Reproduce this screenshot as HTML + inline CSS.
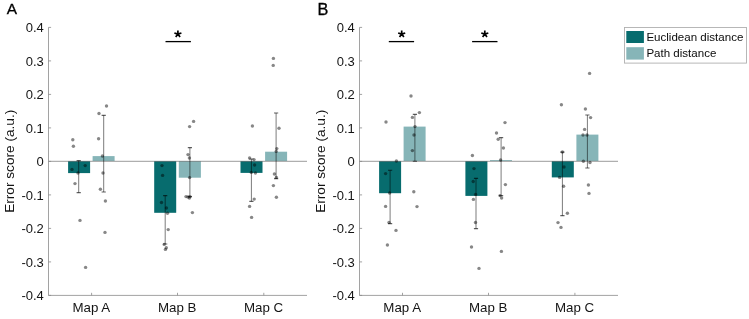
<!DOCTYPE html>
<html><head><meta charset="utf-8"><title>Figure</title>
<style>
html,body{margin:0;padding:0;background:#fff;}
body{width:749px;height:319px;overflow:hidden;}
svg{display:block;will-change:transform;}
text{font-family:"Liberation Sans",sans-serif;fill:#141414;}
.tk{font-size:13px;}
.xl{font-size:13.3px;}
.pl{font-size:16.4px;fill:#000;stroke:#000;stroke-width:0.3px;}
.lg{font-size:11.55px;fill:#0a0a0a;}
.yl{font-size:13.65px;}
</style></head>
<body>
<svg width="749" height="319" viewBox="0 0 749 319">
<rect width="749" height="319" fill="#ffffff"/>
<!-- panel A -->
<g>
<rect x="68.1" y="161.0" width="22.0" height="12.1" fill="#076c6e"/>
<rect x="92.6" y="156.1" width="22.0" height="4.9" fill="#86b5b8"/>
<rect x="154.2" y="161.0" width="22.0" height="51.8" fill="#076c6e"/>
<rect x="178.8" y="161.0" width="22.1" height="16.7" fill="#86b5b8"/>
<rect x="240.5" y="161.0" width="22.0" height="11.9" fill="#076c6e"/>
<rect x="265.1" y="151.7" width="22.0" height="9.3" fill="#86b5b8"/>
<line x1="48.5" y1="161.3" x2="307.0" y2="161.3" stroke="#787878" stroke-width="0.75"/>
<path d="M48.5 27.4V295.4H307.0" stroke="#8a8a8a" stroke-width="0.8" fill="none"/>
<path d="M48.5 295.4h2.6M48.5 261.9h2.6M48.5 228.4h2.6M48.5 194.9h2.6M48.5 161.4h2.6M48.5 127.9h2.6M48.5 94.4h2.6M48.5 60.9h2.6M48.5 27.4h2.6M91.6 295.4v-2.6M177.5 295.4v-2.6M263.8 295.4v-2.6" stroke="#8a8a8a" stroke-width="0.8" fill="none"/>
<text class="tk" x="43.8" y="300.0" text-anchor="end">-0.4</text>
<text class="tk" x="43.8" y="266.5" text-anchor="end">-0.3</text>
<text class="tk" x="43.8" y="233.0" text-anchor="end">-0.2</text>
<text class="tk" x="43.8" y="199.5" text-anchor="end">-0.1</text>
<text class="tk" x="43.8" y="166.0" text-anchor="end">0</text>
<text class="tk" x="43.8" y="132.5" text-anchor="end">0.1</text>
<text class="tk" x="43.8" y="99.0" text-anchor="end">0.2</text>
<text class="tk" x="43.8" y="65.5" text-anchor="end">0.3</text>
<text class="tk" x="43.8" y="32.0" text-anchor="end">0.4</text>
<text class="xl" x="91.3" y="312.2" text-anchor="middle">Map A</text>
<text class="xl" x="177.2" y="312.2" text-anchor="middle">Map B</text>
<text class="xl" x="263.5" y="312.2" text-anchor="middle">Map C</text>
<text class="yl" transform="translate(14.2 161.3) rotate(-90)" text-anchor="middle">Error score (a.u.)</text>
<path d="M78.7 160.6V192.6M103.7 115.4V192.0M165.2 195.6V244.0M189.9 147.6V196.6M251.4 159.0V201.4M276.1 113.0V178.6" stroke="#000" stroke-opacity="0.58" stroke-width="0.9" fill="none"/>
<path d="M76.6 160.6h4.2M76.6 192.6h4.2M101.6 115.4h4.2M101.6 192.0h4.2M163.1 195.6h4.2M163.1 244.0h4.2M187.8 147.6h4.2M187.8 196.6h4.2M249.3 159.0h4.2M249.3 201.4h4.2M274.0 113.0h4.2M274.0 178.6h4.2" stroke="#000" stroke-opacity="0.62" stroke-width="1.1" fill="none"/>
<g fill="#000" fill-opacity="0.47">
<circle cx="72.8" cy="139.8" r="1.7"/><circle cx="73.4" cy="146.3" r="1.7"/><circle cx="72.0" cy="169.4" r="1.7"/><circle cx="85.2" cy="165.6" r="1.7"/><circle cx="78.0" cy="173.0" r="1.7"/><circle cx="75.0" cy="183.6" r="1.7"/><circle cx="80.0" cy="220.4" r="1.7"/><circle cx="85.6" cy="267.4" r="1.7"/><circle cx="106.5" cy="106.0" r="1.7"/><circle cx="99.0" cy="113.5" r="1.7"/><circle cx="98.6" cy="138.8" r="1.7"/><circle cx="102.4" cy="156.0" r="1.7"/><circle cx="103.0" cy="173.0" r="1.7"/><circle cx="100.4" cy="189.2" r="1.7"/><circle cx="105.4" cy="201.0" r="1.7"/><circle cx="105.0" cy="232.4" r="1.7"/><circle cx="162.0" cy="165.6" r="1.7"/><circle cx="162.6" cy="175.4" r="1.7"/><circle cx="161.5" cy="202.5" r="1.7"/><circle cx="166.4" cy="208.0" r="1.7"/><circle cx="167.5" cy="213.3" r="1.7"/><circle cx="168.2" cy="229.6" r="1.7"/><circle cx="164.2" cy="244.4" r="1.7"/><circle cx="166.3" cy="247.8" r="1.7"/><circle cx="165.4" cy="249.4" r="1.7"/><circle cx="193.6" cy="121.4" r="1.7"/><circle cx="189.6" cy="126.6" r="1.7"/><circle cx="188.0" cy="154.6" r="1.7"/><circle cx="189.4" cy="158.0" r="1.7"/><circle cx="189.6" cy="177.6" r="1.7"/><circle cx="188.0" cy="197.0" r="1.7"/><circle cx="190.0" cy="196.6" r="1.7"/><circle cx="186.0" cy="196.6" r="1.7"/><circle cx="189.4" cy="198.0" r="1.7"/><circle cx="192.4" cy="212.6" r="1.7"/><circle cx="252.4" cy="126.0" r="1.7"/><circle cx="249.6" cy="158.0" r="1.7"/><circle cx="254.0" cy="159.6" r="1.7"/><circle cx="254.6" cy="165.0" r="1.7"/><circle cx="255.4" cy="173.0" r="1.7"/><circle cx="254.2" cy="199.1" r="1.7"/><circle cx="249.6" cy="206.4" r="1.7"/><circle cx="251.6" cy="217.4" r="1.7"/><circle cx="273.4" cy="58.4" r="1.7"/><circle cx="273.2" cy="65.4" r="1.7"/><circle cx="279.0" cy="128.2" r="1.7"/><circle cx="276.8" cy="148.6" r="1.7"/><circle cx="274.4" cy="174.0" r="1.7"/><circle cx="276.4" cy="177.4" r="1.7"/><circle cx="273.4" cy="185.6" r="1.7"/><circle cx="276.4" cy="197.2" r="1.7"/><circle cx="276.2" cy="151.4" r="1.7"/><circle cx="251.3" cy="172.4" r="1.7"/>
</g>
<line x1="165.5" y1="41.6" x2="190.9" y2="41.6" stroke="#000" stroke-width="1.3"/>
<path d="M177.90 34.10L177.90 30.40M177.90 34.10L181.42 32.96M177.90 34.10L180.07 37.09M177.90 34.10L175.73 37.09M177.90 34.10L174.38 32.96" stroke="#000" stroke-width="1.7" fill="none"/>
<text class="pl" style="font-size:15.4px" x="6.7" y="14.3">A</text>
</g>
<!-- panel B -->
<g>
<rect x="379.1" y="161.0" width="22.0" height="32.2" fill="#076c6e"/>
<rect x="403.6" y="126.6" width="22.0" height="34.4" fill="#86b5b8"/>
<rect x="465.4" y="161.0" width="22.0" height="34.9" fill="#076c6e"/>
<rect x="490.0" y="160.1" width="22.0" height="0.9" fill="#86b5b8"/>
<rect x="551.8" y="161.0" width="22.0" height="16.4" fill="#076c6e"/>
<rect x="576.4" y="134.6" width="22.0" height="26.4" fill="#86b5b8"/>
<line x1="359.5" y1="161.3" x2="618.0" y2="161.3" stroke="#787878" stroke-width="0.75"/>
<path d="M359.5 27.4V295.4H618.0" stroke="#8a8a8a" stroke-width="0.8" fill="none"/>
<path d="M359.5 295.4h2.6M359.5 261.9h2.6M359.5 228.4h2.6M359.5 194.9h2.6M359.5 161.4h2.6M359.5 127.9h2.6M359.5 94.4h2.6M359.5 60.9h2.6M359.5 27.4h2.6M402.5 295.4v-2.6M488.5 295.4v-2.6M574.9 295.4v-2.6" stroke="#8a8a8a" stroke-width="0.8" fill="none"/>
<text class="tk" x="354.8" y="300.0" text-anchor="end">-0.4</text>
<text class="tk" x="354.8" y="266.5" text-anchor="end">-0.3</text>
<text class="tk" x="354.8" y="233.0" text-anchor="end">-0.2</text>
<text class="tk" x="354.8" y="199.5" text-anchor="end">-0.1</text>
<text class="tk" x="354.8" y="166.0" text-anchor="end">0</text>
<text class="tk" x="354.8" y="132.5" text-anchor="end">0.1</text>
<text class="tk" x="354.8" y="99.0" text-anchor="end">0.2</text>
<text class="tk" x="354.8" y="65.5" text-anchor="end">0.3</text>
<text class="tk" x="354.8" y="32.0" text-anchor="end">0.4</text>
<text class="xl" x="402.2" y="312.2" text-anchor="middle">Map A</text>
<text class="xl" x="488.2" y="312.2" text-anchor="middle">Map B</text>
<text class="xl" x="574.6" y="312.2" text-anchor="middle">Map C</text>
<text class="yl" transform="translate(325.2 161.3) rotate(-90)" text-anchor="middle">Error score (a.u.)</text>
<path d="M390.1 170.3V223.6M414.9 114.4V161.2M476.0 178.4V228.6M501.1 137.6V195.6M562.4 152.1V215.6M587.4 115.0V168.0" stroke="#000" stroke-opacity="0.58" stroke-width="0.9" fill="none"/>
<path d="M388.0 170.3h4.2M388.0 223.6h4.2M412.8 114.4h4.2M412.8 161.2h4.2M473.9 178.4h4.2M473.9 228.6h4.2M499.0 137.6h4.2M499.0 195.6h4.2M560.3 152.1h4.2M560.3 215.6h4.2M585.3 115.0h4.2M585.3 168.0h4.2" stroke="#000" stroke-opacity="0.62" stroke-width="1.1" fill="none"/>
<g fill="#000" fill-opacity="0.47">
<circle cx="386.0" cy="122.0" r="1.7"/><circle cx="396.4" cy="161.0" r="1.7"/><circle cx="385.6" cy="173.6" r="1.7"/><circle cx="389.6" cy="193.0" r="1.7"/><circle cx="385.6" cy="206.4" r="1.7"/><circle cx="389.0" cy="222.4" r="1.7"/><circle cx="396.0" cy="230.4" r="1.7"/><circle cx="387.4" cy="245.0" r="1.7"/><circle cx="411.0" cy="96.0" r="1.7"/><circle cx="419.4" cy="112.6" r="1.7"/><circle cx="412.4" cy="117.4" r="1.7"/><circle cx="415.0" cy="126.6" r="1.7"/><circle cx="414.0" cy="135.0" r="1.7"/><circle cx="412.4" cy="150.6" r="1.7"/><circle cx="413.8" cy="191.8" r="1.7"/><circle cx="417.0" cy="206.6" r="1.7"/><circle cx="472.4" cy="155.5" r="1.7"/><circle cx="474.0" cy="168.6" r="1.7"/><circle cx="473.2" cy="181.5" r="1.7"/><circle cx="475.6" cy="194.4" r="1.7"/><circle cx="473.4" cy="199.4" r="1.7"/><circle cx="475.5" cy="222.5" r="1.7"/><circle cx="471.5" cy="247.0" r="1.7"/><circle cx="479.0" cy="268.4" r="1.7"/><circle cx="505.0" cy="122.6" r="1.7"/><circle cx="496.5" cy="133.0" r="1.7"/><circle cx="498.2" cy="139.2" r="1.7"/><circle cx="503.4" cy="148.0" r="1.7"/><circle cx="500.6" cy="160.0" r="1.7"/><circle cx="505.4" cy="184.6" r="1.7"/><circle cx="500.0" cy="195.6" r="1.7"/><circle cx="501.6" cy="198.0" r="1.7"/><circle cx="501.4" cy="251.4" r="1.7"/><circle cx="561.4" cy="104.8" r="1.7"/><circle cx="562.4" cy="152.0" r="1.7"/><circle cx="564.0" cy="167.0" r="1.7"/><circle cx="559.6" cy="177.4" r="1.7"/><circle cx="563.6" cy="186.2" r="1.7"/><circle cx="567.4" cy="213.3" r="1.7"/><circle cx="558.0" cy="222.6" r="1.7"/><circle cx="561.0" cy="227.4" r="1.7"/><circle cx="589.6" cy="73.4" r="1.7"/><circle cx="585.4" cy="109.0" r="1.7"/><circle cx="590.6" cy="117.6" r="1.7"/><circle cx="584.6" cy="129.4" r="1.7"/><circle cx="583.0" cy="135.0" r="1.7"/><circle cx="587.0" cy="135.0" r="1.7"/><circle cx="583.4" cy="161.3" r="1.7"/><circle cx="590.0" cy="162.5" r="1.7"/><circle cx="588.4" cy="185.0" r="1.7"/><circle cx="589.0" cy="193.4" r="1.7"/>
</g>
<line x1="388.8" y1="41.6" x2="414.1" y2="41.6" stroke="#000" stroke-width="1.3"/>
<path d="M401.70 34.10L401.70 30.40M401.70 34.10L405.22 32.96M401.70 34.10L403.87 37.09M401.70 34.10L399.53 37.09M401.70 34.10L398.18 32.96" stroke="#000" stroke-width="1.7" fill="none"/>
<line x1="472.1" y1="41.6" x2="497.5" y2="41.6" stroke="#000" stroke-width="1.3"/>
<path d="M484.80 34.10L484.80 30.40M484.80 34.10L488.32 32.96M484.80 34.10L486.97 37.09M484.80 34.10L482.63 37.09M484.80 34.10L481.28 32.96" stroke="#000" stroke-width="1.7" fill="none"/>
<text class="pl" style="font-size:16.3px" x="317.6" y="14.6">B</text>
</g>
<!-- legend -->
<rect x="624.5" y="27.5" width="122" height="35.6" fill="#fff" stroke="#b0b0b0" stroke-width="0.9"/>
<rect x="626.3" y="31" width="17.6" height="12" fill="#076c6e"/>
<rect x="626.3" y="47.2" width="17.6" height="12.4" fill="#86b5b8"/>
<text class="lg" x="646.4" y="41.1">Euclidean distance</text>
<text class="lg" x="646.4" y="57.1">Path distance</text>
</svg>
</body></html>
